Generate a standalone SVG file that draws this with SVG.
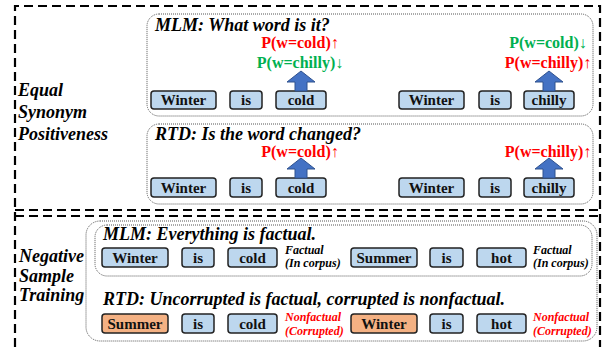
<svg xmlns="http://www.w3.org/2000/svg" width="605" height="347" viewBox="0 0 605 347">
<style>
.dash{fill:none;stroke:#000;stroke-width:2.2;stroke-dasharray:9 5}
.dot{fill:none;stroke:#555;stroke-width:1;stroke-dasharray:1 1}
.tok rect{fill:#BDD7EE;stroke:#222;stroke-width:1.5}
.tok.o rect{fill:#F4B183}
.tok text{font-family:"Liberation Serif",serif;font-weight:bold;font-size:15px;text-anchor:middle;fill:#111}
.side{font-family:"Liberation Serif",serif;font-weight:bold;font-style:italic;font-size:18px;fill:#000}
.title{font-family:"Liberation Serif",serif;font-weight:bold;font-style:italic;font-size:18px;fill:#000}
.p{font-family:"Liberation Serif",serif;font-weight:bold;font-size:16px;text-anchor:middle}
.red{fill:#FF0000}
.grn{fill:#00B050}
.note{font-family:"Liberation Serif",serif;font-weight:bold;font-style:italic;font-size:12px}
.arr{fill:#4472C4;stroke:#2F528F;stroke-width:1}
</style>
<defs>
<path id="ar" d="M-6,0 V-9 H-14 L0,-20 L14,-9 H6 V0 Z"/>
</defs>
<!-- outer dashed frames -->
<g id="frames">
<path class="dash" d="M15,347 V6 H600 V347"/>
<line class="dash" x1="15" y1="210" x2="600" y2="210"/>
<line class="dash" x1="15" y1="216" x2="600" y2="216"/>
</g>
<!-- section 1 -->
<g id="label1">
<text class="side" x="18" y="96">Equal</text>
<text class="side" x="18" y="118">Synonym</text>
<text class="side" x="18" y="140">Positiveness</text>
</g>
<g id="mlm1">
<rect class="dot" x="147" y="14" width="446" height="102" rx="12"/>
<text class="title" x="155" y="31">MLM: What word is it?</text>
<text class="p red" x="300" y="48">P(w=cold)↑</text>
<text class="p grn" x="300" y="68">P(w=chilly)↓</text>
<text class="p grn" x="548" y="48">P(w=cold)↓</text>
<text class="p red" x="548" y="68">P(w=chilly)↑</text>
</g>
<g id="rtd1">
<rect class="dot" x="147" y="124" width="446" height="80" rx="12"/>
<text class="title" x="155" y="140">RTD: Is the word changed?</text>
<text class="p red" x="300" y="157">P(w=cold)↑</text>
<text class="p red" x="548" y="157">P(w=chilly)↑</text>
</g>
<g id="tokens-mlm1">
<g class="tok"><rect x="151" y="91" width="65" height="18" rx="3"/><text x="183.5" y="105">Winter</text></g>
<g class="tok"><rect x="230" y="91" width="32" height="18" rx="3"/><text x="246" y="105">is</text></g>
<g class="tok"><rect x="276" y="91" width="50" height="18" rx="3"/><text x="301" y="105">cold</text></g>
<g class="tok"><rect x="399" y="91" width="65" height="18" rx="3"/><text x="431.5" y="105">Winter</text></g>
<g class="tok"><rect x="479" y="91" width="32" height="18" rx="3"/><text x="495" y="105">is</text></g>
<g class="tok"><rect x="524" y="91" width="50" height="18" rx="3"/><text x="549" y="105">chilly</text></g>
</g>
<g id="tokens-rtd1">
<g class="tok"><rect x="151" y="178" width="65" height="19" rx="3"/><text x="183.5" y="193">Winter</text></g>
<g class="tok"><rect x="230" y="178" width="32" height="19" rx="3"/><text x="246" y="193">is</text></g>
<g class="tok"><rect x="276" y="178" width="50" height="19" rx="3"/><text x="301" y="193">cold</text></g>
<g class="tok"><rect x="399" y="178" width="65" height="19" rx="3"/><text x="431.5" y="193">Winter</text></g>
<g class="tok"><rect x="479" y="178" width="32" height="19" rx="3"/><text x="495" y="193">is</text></g>
<g class="tok"><rect x="524" y="178" width="50" height="19" rx="3"/><text x="549" y="193">chilly</text></g>
</g>
<g id="connectors">
<use href="#ar" class="arr" x="301" y="91"/>
<use href="#ar" class="arr" x="549" y="91"/>
<use href="#ar" class="arr" x="301" y="178"/>
<use href="#ar" class="arr" x="549" y="178"/>
</g>
<!-- section 2 -->
<g id="label2">
<text class="side" x="19" y="262">Negative</text>
<text class="side" x="19" y="281.5">Sample</text>
<text class="side" x="19" y="301">Training</text>
</g>
<g id="nst">
<rect class="dot" x="86" y="221" width="511" height="120" rx="14"/>
<rect class="dot" x="95" y="225" width="497" height="51" rx="12"/>
<text class="title" x="103" y="240">MLM: Everything is factual.</text>
<text class="title" x="103" y="305">RTD: Uncorrupted is factual, corrupted is nonfactual.</text>
<text class="note" x="285" y="254">Factual</text>
<text class="note" x="285" y="267">(In corpus)</text>
<text class="note" x="533" y="254">Factual</text>
<text class="note" x="533" y="267">(In corpus)</text>
<text class="note red" x="285" y="321">Nonfactual</text>
<text class="note red" x="285" y="335">(Corrupted)</text>
<text class="note red" x="533" y="321">Nonfactual</text>
<text class="note red" x="533" y="335">(Corrupted)</text>
</g>
<g id="tokens-mlm2">
<g class="tok"><rect x="102" y="248" width="66" height="19" rx="3"/><text x="135" y="263">Winter</text></g>
<g class="tok"><rect x="182" y="248" width="32" height="19" rx="3"/><text x="198" y="263">is</text></g>
<g class="tok"><rect x="228" y="248" width="49" height="19" rx="3"/><text x="252.5" y="263">cold</text></g>
<g class="tok"><rect x="351" y="248" width="66" height="19" rx="3"/><text x="384" y="263">Summer</text></g>
<g class="tok"><rect x="430" y="248" width="33" height="19" rx="3"/><text x="446.5" y="263">is</text></g>
<g class="tok"><rect x="477" y="248" width="49" height="19" rx="3"/><text x="501.5" y="263">hot</text></g>
</g>
<g id="tokens-rtd2">
<g class="tok o"><rect x="102" y="314" width="66" height="19" rx="3"/><text x="135" y="329">Summer</text></g>
<g class="tok"><rect x="182" y="314" width="32" height="19" rx="3"/><text x="198" y="329">is</text></g>
<g class="tok"><rect x="228" y="314" width="49" height="19" rx="3"/><text x="252.5" y="329">cold</text></g>
<g class="tok o"><rect x="351" y="314" width="66" height="19" rx="3"/><text x="384" y="329">Winter</text></g>
<g class="tok"><rect x="430" y="314" width="33" height="19" rx="3"/><text x="446.5" y="329">is</text></g>
<g class="tok"><rect x="477" y="314" width="49" height="19" rx="3"/><text x="501.5" y="329">hot</text></g>
</g>
</svg>
